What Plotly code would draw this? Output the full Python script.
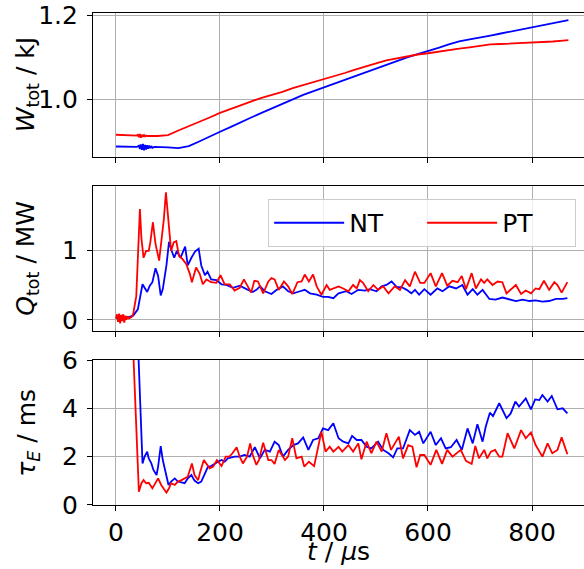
import plotly.graph_objects as go
from plotly.subplots import make_subplots

# stored energy W_tot / kJ  (t in microseconds)
w_nt = [(0, 0.887), (20, 0.887), (40, 0.886), (44, 0.889), (46, 0.881), (48, 0.892), (50, 0.879),
        (52, 0.893), (54, 0.878), (56, 0.891), (58, 0.880), (60, 0.890), (62, 0.882), (64, 0.889),
        (66, 0.883), (68, 0.888), (70, 0.884), (74, 0.886), (80, 0.886), (100, 0.885), (120, 0.883),
        (140, 0.888), (160, 0.899), (180, 0.911), (200, 0.922), (220, 0.933), (240, 0.945),
        (260, 0.956), (280, 0.967), (300, 0.978), (320, 0.989), (340, 1.000), (360, 1.010),
        (380, 1.019), (400, 1.028), (420, 1.037), (440, 1.046), (460, 1.055), (480, 1.064),
        (500, 1.073), (520, 1.082), (540, 1.091), (560, 1.099), (580, 1.107), (600, 1.114),
        (620, 1.122), (640, 1.130), (660, 1.137), (680, 1.142), (700, 1.146), (720, 1.151),
        (740, 1.156), (760, 1.161), (780, 1.167), (800, 1.172), (820, 1.177), (840, 1.182),
        (860, 1.186), (870, 1.188)]
w_pt = [(0, 0.915), (20, 0.914), (40, 0.913), (42, 0.916), (44, 0.909), (46, 0.917), (48, 0.908),
        (50, 0.915), (52, 0.910), (54, 0.914), (56, 0.911), (58, 0.913), (60, 0.912), (80, 0.912),
        (100, 0.914), (120, 0.925), (140, 0.935), (160, 0.946), (180, 0.956), (200, 0.967),
        (220, 0.976), (240, 0.985), (260, 0.994), (280, 1.003), (300, 1.010), (320, 1.017),
        (340, 1.026), (360, 1.033), (380, 1.040), (400, 1.048), (420, 1.055), (440, 1.062),
        (460, 1.070), (480, 1.078), (500, 1.085), (520, 1.092), (540, 1.097), (560, 1.102),
        (580, 1.106), (600, 1.109), (620, 1.113), (640, 1.117), (660, 1.120), (680, 1.123),
        (700, 1.127), (720, 1.130), (740, 1.131), (760, 1.132), (780, 1.133), (800, 1.134),
        (820, 1.135), (840, 1.137), (860, 1.139), (870, 1.140)]

# heating power Q_tot / MW
q_nt = [(0, 0.02), (5, 0.04), (10, 0.01), (15, 0.03), (20, 0.03), (25, 0.04), (33, 0.06), (42, 0.15),
        (51, 0.51), (55, 0.46), (60, 0.40), (65, 0.49), (70, 0.54), (76, 0.74), (81, 0.63), (86, 0.35),
        (90, 0.44), (97, 0.78), (102, 1.12), (107, 0.99), (112, 0.89), (117, 0.99), (124, 0.89),
        (133, 1.05), (138, 0.78), (145, 0.89), (152, 0.98), (159, 1.02), (164, 0.78), (171, 0.64),
        (176, 0.69), (183, 0.58), (193, 0.57), (203, 0.51), (212, 0.50), (225, 0.46), (238, 0.49),
        (251, 0.44), (263, 0.40), (270, 0.43), (277, 0.48), (286, 0.41), (299, 0.37), (309, 0.43),
        (321, 0.48), (331, 0.41), (341, 0.38), (354, 0.41), (363, 0.43), (373, 0.38), (386, 0.36),
        (398, 0.33), (408, 0.33), (418, 0.31), (428, 0.38), (443, 0.41), (453, 0.37), (466, 0.43),
        (479, 0.42), (488, 0.44), (501, 0.41), (511, 0.48), (520, 0.50), (530, 0.55), (540, 0.47),
        (549, 0.47), (559, 0.43), (568, 0.38), (575, 0.43), (583, 0.36), (593, 0.44), (605, 0.36),
        (618, 0.45), (628, 0.41), (641, 0.48), (654, 0.45), (666, 0.50), (676, 0.36), (686, 0.44),
        (695, 0.36), (705, 0.43), (718, 0.30), (730, 0.29), (743, 0.32), (756, 0.29), (769, 0.27),
        (782, 0.29), (795, 0.27), (807, 0.28), (820, 0.26), (833, 0.27), (846, 0.30), (859, 0.30),
        (868, 0.31)]
q_pt = [(0, 0.02), (2, 0.08), (4, -0.03), (6, 0.09), (8, -0.05), (10, 0.07), (12, -0.02), (14, 0.08),
        (16, -0.04), (18, 0.06), (20, 0.0), (22, 0.05), (25, 0.02), (30, 0.04), (33, 0.08), (39, 0.34),
        (46, 1.59), (49, 1.16), (53, 0.89), (58, 0.99), (63, 0.99), (66, 1.11), (71, 1.40), (76, 1.09),
        (83, 0.85), (92, 1.44), (96, 1.83), (101, 1.44), (106, 0.99), (111, 1.11), (116, 1.13),
        (121, 0.92), (128, 0.87), (135, 0.80), (142, 0.66), (146, 0.54), (154, 0.75), (161, 0.66),
        (167, 0.51), (174, 0.58), (183, 0.54), (193, 0.53), (201, 0.64), (209, 0.51), (219, 0.51),
        (228, 0.42), (238, 0.46), (246, 0.58), (254, 0.46), (260, 0.39), (266, 0.56), (273, 0.55),
        (283, 0.38), (293, 0.55), (299, 0.60), (305, 0.58), (313, 0.43), (323, 0.55), (331, 0.48),
        (339, 0.37), (349, 0.54), (357, 0.55), (363, 0.65), (371, 0.55), (379, 0.65), (386, 0.48),
        (395, 0.36), (405, 0.50), (411, 0.43), (418, 0.45), (428, 0.48), (437, 0.45), (447, 0.41),
        (456, 0.50), (463, 0.45), (469, 0.57), (475, 0.53), (485, 0.41), (495, 0.50), (504, 0.43),
        (514, 0.48), (524, 0.38), (536, 0.48), (546, 0.43), (556, 0.57), (565, 0.48), (575, 0.69),
        (585, 0.53), (593, 0.53), (605, 0.67), (615, 0.48), (627, 0.67), (637, 0.49), (647, 0.56),
        (657, 0.54), (665, 0.63), (673, 0.44), (684, 0.67), (692, 0.45), (702, 0.58), (708, 0.53),
        (714, 0.58), (724, 0.50), (734, 0.55), (743, 0.54), (751, 0.38), (759, 0.44), (769, 0.50),
        (779, 0.37), (788, 0.42), (798, 0.38), (807, 0.45), (814, 0.44), (823, 0.56), (833, 0.43),
        (843, 0.54), (849, 0.50), (857, 0.39), (868, 0.54)]

# confinement time tau_E / ms
tau_nt = [(0, 60), (20, 30), (35, 12), (40, 8), (51, 1.72), (55, 2.0), (60, 2.21), (63, 1.93), (68, 1.72),
          (72, 1.45), (78, 1.24), (81, 1.59), (86, 2.44), (90, 1.86), (96, 1.24), (101, 0.83), (106, 0.97),
          (113, 1.10), (119, 0.97), (126, 0.92), (132, 0.90), (138, 1.10), (145, 1.24), (151, 1.01),
          (158, 0.90), (164, 0.97), (171, 1.31), (177, 1.59), (183, 1.61), (190, 1.72), (196, 1.79),
          (203, 1.86), (209, 1.79), (215, 1.93), (222, 1.97), (228, 2.0), (238, 2.0), (247, 2.07),
          (257, 2.0), (267, 2.39), (277, 1.93), (286, 2.28), (296, 2.21), (305, 2.62), (313, 2.48),
          (321, 2.0), (331, 2.28), (341, 2.48), (350, 2.55), (360, 2.80), (370, 2.28), (379, 2.69),
          (389, 2.76), (398, 3.17), (408, 3.10), (418, 3.38), (428, 2.76), (437, 2.62), (447, 2.55),
          (454, 2.86), (463, 2.69), (472, 2.69), (482, 2.41), (491, 2.34), (504, 2.62), (514, 2.28),
          (524, 2.14), (533, 1.97), (541, 2.34), (552, 2.34), (565, 3.10), (575, 2.90), (583, 3.03),
          (591, 2.55), (605, 3.03), (615, 2.48), (625, 2.76), (634, 2.34), (644, 2.39), (655, 2.69),
          (665, 2.28), (676, 3.17), (686, 2.55), (695, 3.34), (705, 2.62), (711, 3.24), (719, 3.82),
          (725, 3.68), (737, 4.21), (751, 3.59), (759, 3.79), (768, 4.28), (775, 4.07), (788, 4.41),
          (798, 3.96), (806, 4.37), (814, 4.34), (820, 4.55), (830, 4.28), (838, 4.51), (849, 3.96),
          (859, 4.0), (868, 3.79)]
tau_pt = [(0, 60), (20, 25), (28, 12), (32, 7), (44, 0.55), (49, 0.90), (53, 1.03), (58, 0.90), (63, 0.92),
          (70, 0.69), (74, 0.83), (81, 1.10), (87, 0.83), (92, 0.69), (97, 0.51), (102, 0.69), (106, 0.90),
          (113, 0.83), (119, 0.97), (126, 1.03), (132, 1.10), (138, 1.17), (146, 1.72), (151, 1.24),
          (158, 1.03), (162, 1.38), (169, 1.86), (174, 1.72), (180, 1.52), (187, 1.59), (194, 1.86),
          (203, 1.61), (211, 2.0), (218, 2.0), (224, 2.14), (232, 2.39), (238, 2.0), (244, 1.72),
          (252, 2.0), (258, 2.55), (263, 2.07), (270, 1.66), (275, 1.86), (283, 2.58), (293, 1.86),
          (299, 1.86), (305, 1.70), (313, 2.28), (325, 1.86), (331, 2.0), (339, 2.76), (347, 1.93),
          (357, 2.0), (362, 1.59), (371, 1.79), (381, 1.61), (389, 2.48), (395, 3.03), (403, 2.21),
          (411, 2.41), (418, 2.21), (428, 2.41), (435, 2.21), (447, 2.48), (456, 2.21), (466, 2.55),
          (472, 1.89), (482, 2.62), (491, 2.14), (501, 2.62), (511, 2.21), (520, 2.97), (529, 2.28),
          (537, 2.55), (544, 2.83), (552, 1.93), (562, 2.48), (570, 2.41), (578, 1.56), (585, 2.07),
          (593, 2.07), (605, 1.66), (616, 2.28), (627, 1.70), (637, 2.28), (647, 2.0), (655, 2.14),
          (663, 2.28), (673, 1.83), (684, 1.70), (691, 2.44), (698, 1.93), (708, 2.28), (714, 1.93),
          (721, 2.21), (729, 2.28), (737, 2.0), (743, 2.0), (753, 2.97), (766, 2.34), (779, 3.10),
          (788, 2.76), (798, 3.0), (807, 2.48), (820, 2.0), (830, 2.55), (839, 2.14), (849, 2.28),
          (857, 2.80), (868, 2.10)]

x_ticks = [0, 200, 400, 600, 800]

BLUE = '#0000ff'
RED = '#ff0000'
FONT = 'DejaVu Sans'
FS = 25

fig = make_subplots(rows=3, cols=1, shared_xaxes=True)

panels = [(w_nt, w_pt), (q_nt, q_pt), (tau_nt, tau_pt)]
for row, (nt, pt) in enumerate(panels, start=1):
    for data, name, col in ((nt, 'NT', BLUE), (pt, 'PT', RED)):
        t, v = zip(*data)
        fig.add_trace(go.Scatter(x=t, y=v, mode='lines', name=name,
                                 line=dict(color=col, width=1.8),
                                 showlegend=(row == 2)), row=row, col=1)

domains = [[0.7073, 1.0], [0.3537, 0.6484], [0.0, 0.2947]]
yranges = [[0.862, 1.2048], [-0.16, 1.92], [0, 6]]
yticks = [[1.0, 1.2], [0, 1], [0, 2, 4, 6]]
ytext = [['1.0', '1.2'], ['0', '1'], ['0', '2', '4', '6']]

axis_style = dict(showline=True, linecolor='black', linewidth=1.1, ticks='outside',
                  ticklen=5, tickwidth=1.1, tickcolor='black', showgrid=True,
                  gridcolor='#b0b0b0', gridwidth=1, zeroline=False, automargin=False,
                  ticklabeloverflow='allow',
                  tickfont=dict(family=FONT, size=FS, color='black'))

for i in range(3):
    fig.update_yaxes(domain=domains[i], range=yranges[i], tickvals=yticks[i], ticktext=ytext[i],
                     mirror=False, ticklabelstandoff=4, row=i + 1, col=1, **axis_style)
    fig.update_xaxes(range=[-44.2, 900], tickvals=x_ticks, mirror=True,
                     showticklabels=(i == 2), row=i + 1, col=1, **axis_style)

ylabels = ['<i>W</i><sub>tot</sub> / kJ', '<i>Q</i><sub>tot</sub> / MW', '<i>τ<sub>E</sub></i> / ms']
for i, lab in enumerate(ylabels):
    fig.add_annotation(text=lab, xref='paper', yref='paper', x=-0.134,
                       y=sum(domains[i]) / 2, textangle=-90, showarrow=False,
                       xanchor='center', yanchor='middle',
                       font=dict(family=FONT, size=FS, color='black'))

fig.add_annotation(text='<i>t</i> / <i>μ</i>s', xref='paper', yref='paper', x=0.5, y=-0.0935,
                   showarrow=False, xanchor='center', yanchor='middle',
                   font=dict(family=FONT, size=FS, color='black'))

fig.update_layout(
    width=584, height=569,
    margin=dict(l=93, r=0, t=13, b=64, autoexpand=False),
    plot_bgcolor='white', paper_bgcolor='white',
    font=dict(family=FONT, size=FS, color='black'),
    legend=dict(orientation='h', x=0.984, xanchor='right', y=0.622, yanchor='top',
                bgcolor='rgba(255,255,255,0.8)', bordercolor='#cccccc', borderwidth=1,
                itemwidth=70, entrywidth=68, font=dict(family=FONT, size=FS, color='black')),
)

# drop the default 8px page margin so the figure sits at the window corner
fig.write_html("out.html", config={'displayModeBar': False},
               post_script="document.body.style.margin = '0';")
